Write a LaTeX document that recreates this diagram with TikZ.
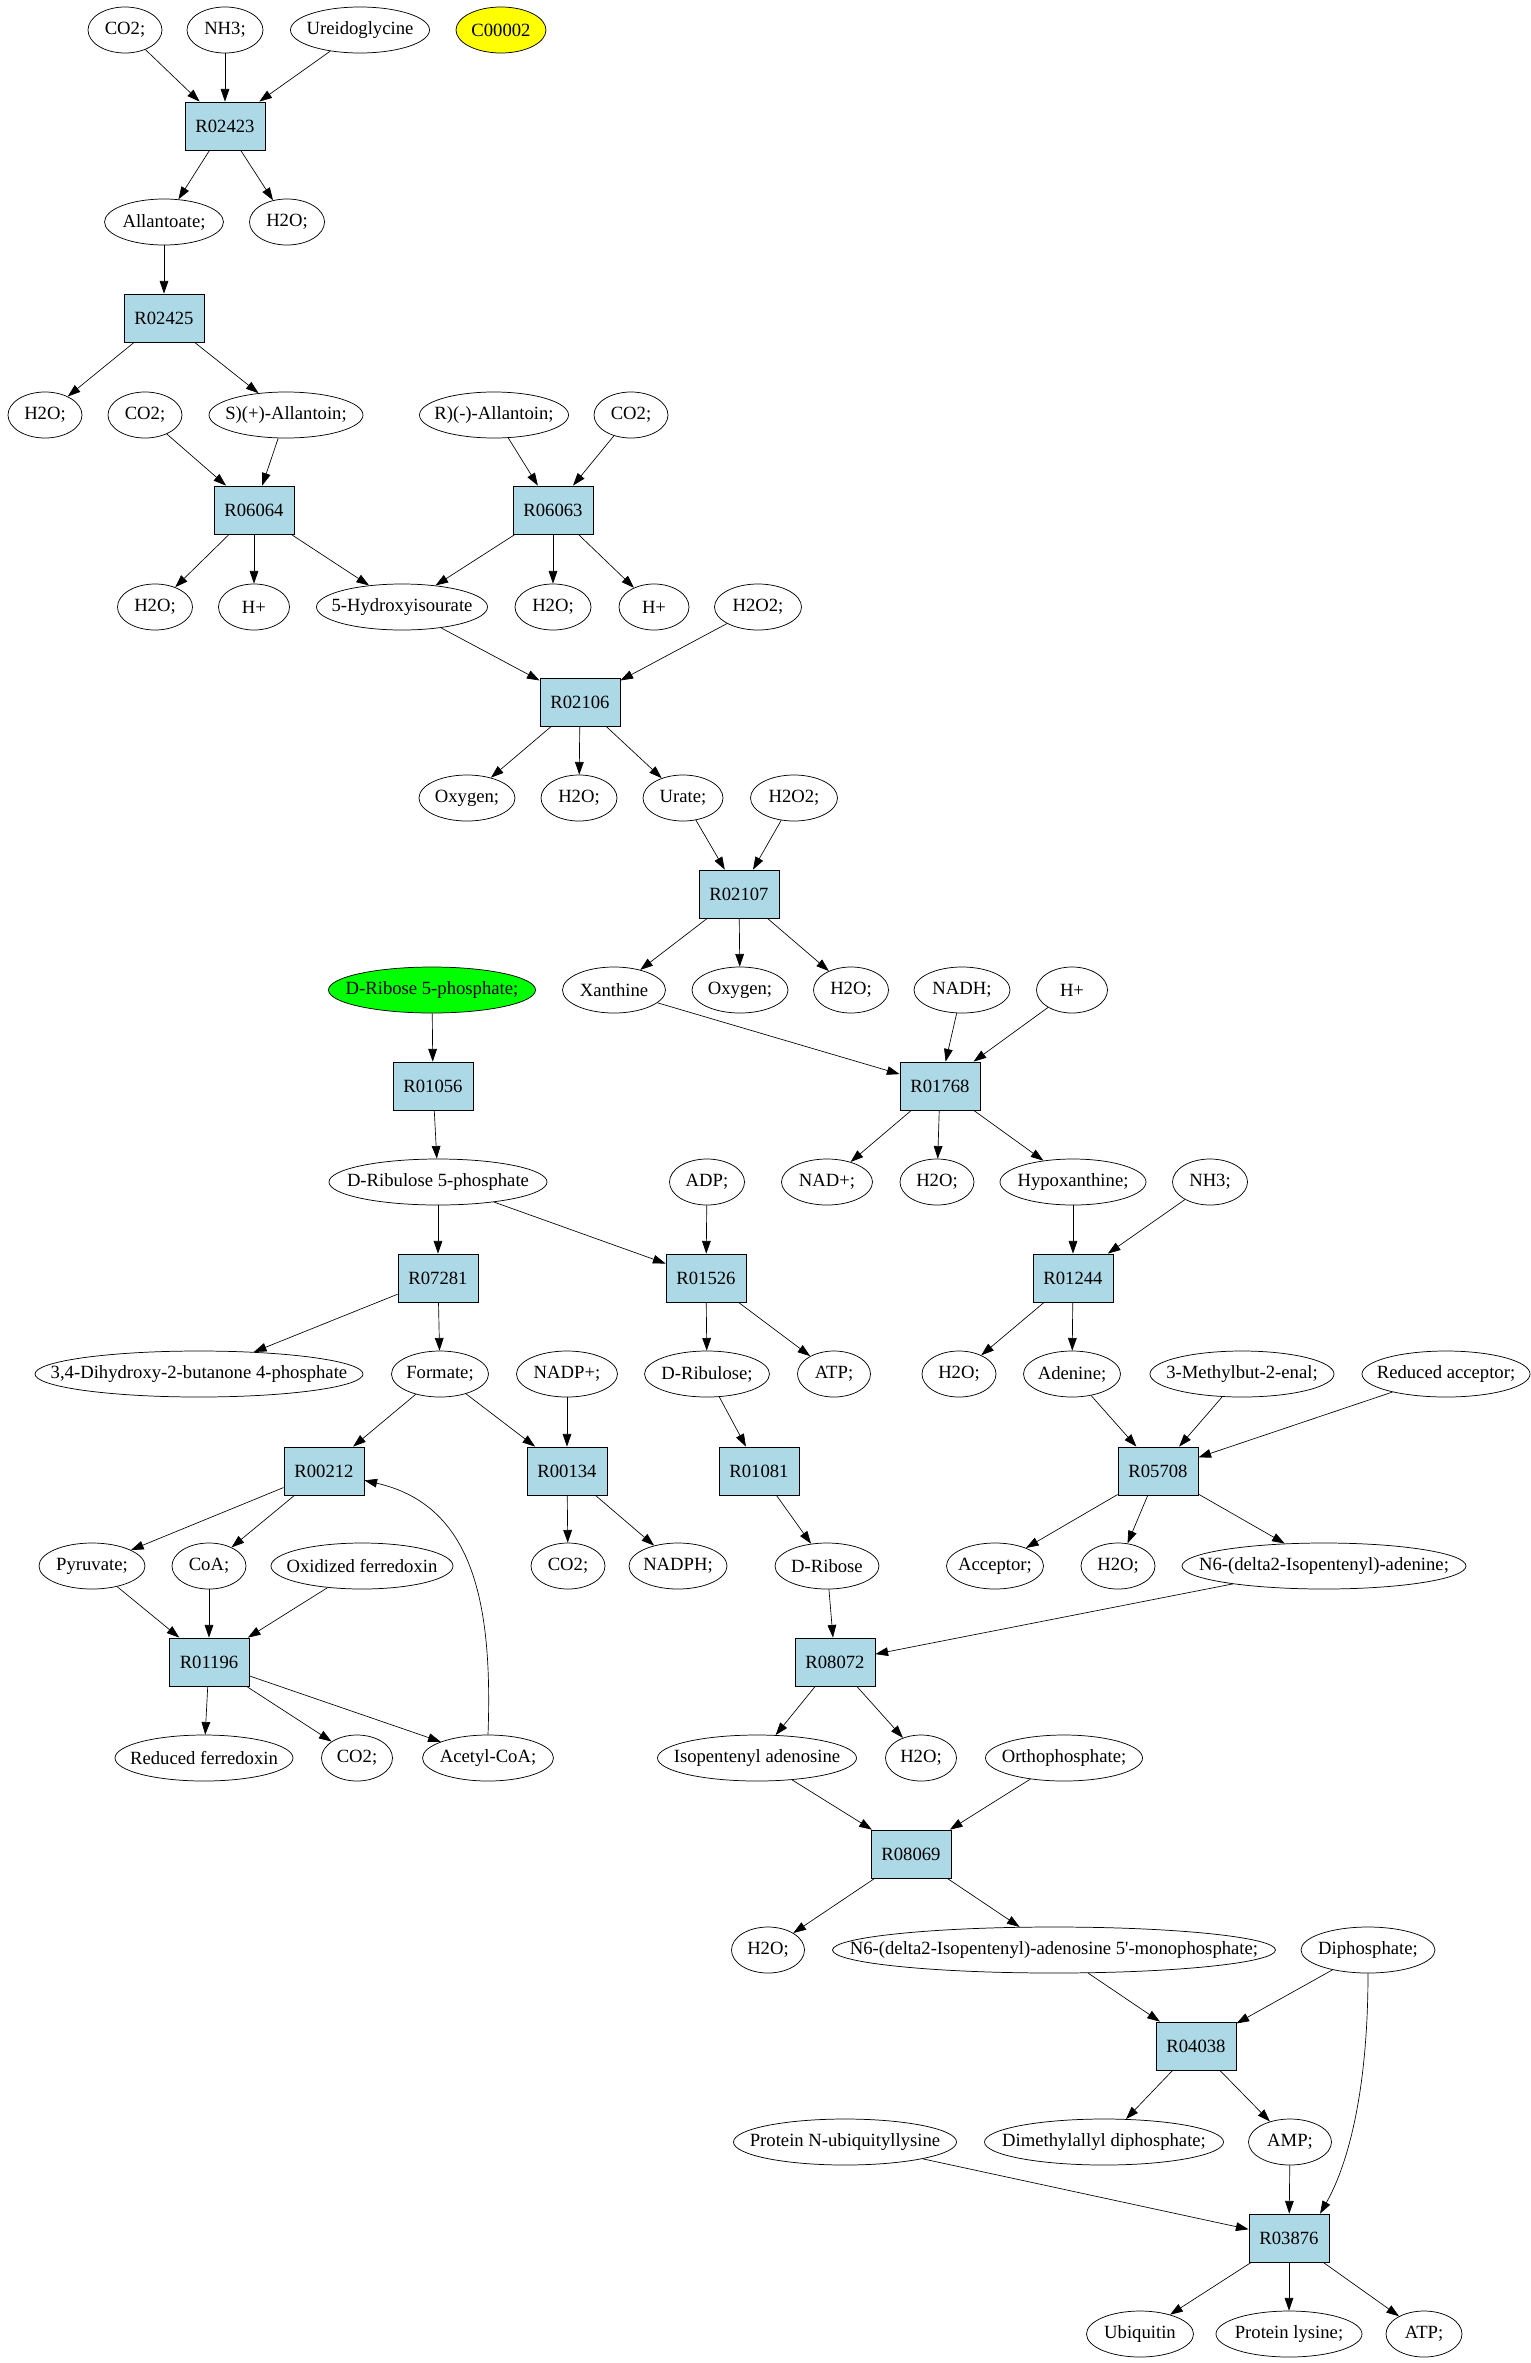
\documentclass[tikz,border=0pt]{standalone}
\usepackage{fontspec}
\setmainfont{Liberation Serif}
\usetikzlibrary{shapes.geometric,arrows.meta}
\definecolor{rxnblue}{HTML}{ADD8E6}
\definecolor{ribgreen}{HTML}{00FF00}
\definecolor{cyellow}{HTML}{FFFF00}
\newcommand\mtxt[1]{\makebox[0pt][c]{#1}}
\begin{document}
\begin{tikzpicture}[x=0.75pt,y=-0.75pt,
  met/.style={ellipse,draw,line width=0.55pt,minimum height=34.5pt,minimum width=#1*0.75pt,inner sep=0pt,font=\fontsize{14}{16}\selectfont},
  rxn/.style={rectangle,draw,fill=rxnblue,line width=0.6pt,minimum width=60pt,minimum height=36pt,inner sep=0pt,font=\fontsize{14}{16}\selectfont},
  arr/.style={-{Triangle[length=9.5pt,width=6.5pt]},line width=0.5pt}]
\useasboundingbox (0,0) rectangle (1531,2363);
% row 1
\node[met=74] (co2a) at (125,30) {\mtxt{CO2;}};
\node[met=76] (nh3a) at (225,30) {\mtxt{NH3;}};
\node[met=139] (ureido) at (360,30) {\mtxt{Ureidoglycine}};
\node[met=90,fill=cyellow] (c00002) at (501,30) {\mtxt{C00002}};
\node[rxn] (r02423) at (225,126) {R02423};
% row 2
\node[met=119] (allantoate) at (164,222) {\mtxt{Allantoate;}};
\node[met=75] (h2oa) at (287,222) {\mtxt{H2O;}};
\node[rxn] (r02425) at (164,318) {R02425};
% row 3
\node[met=74] (h2ob) at (45,415) {\mtxt{H2O;}};
\node[met=74] (co2b) at (145,415) {\mtxt{CO2;}};
\node[met=154] (sallan) at (286,415) {\mtxt{S)(+)-Allantoin;}};
\node[met=149] (rallan) at (494,415) {\mtxt{R)(-)-Allantoin;}};
\node[met=74] (co2c) at (631,415) {\mtxt{CO2;}};
\node[rxn] (r06064) at (254,510) {R06064};
\node[rxn] (r06063) at (553,510) {R06063};
% row 4
\node[met=75] (h2oc) at (155,607) {\mtxt{H2O;}};
\node[met=71] (hpa) at (254,607) {\mtxt{H+}};
\node[met=171] (hydroxy) at (402,607) {\mtxt{5-Hydroxyisourate}};
\node[met=76] (h2od) at (553,607) {\mtxt{H2O;}};
\node[met=70] (hpb) at (654,607) {\mtxt{H+}};
\node[met=87] (h2o2a) at (758,607) {\mtxt{H2O2;}};
\node[rxn] (r02106) at (580,702) {R02106};
% row 5
\node[met=96] (oxya) at (467,798) {\mtxt{Oxygen;}};
\node[met=76] (h2oe) at (579,798) {\mtxt{H2O;}};
\node[met=80] (urate) at (683,798) {\mtxt{Urate;}};
\node[met=87] (h2o2b) at (794,798) {\mtxt{H2O2;}};
\node[rxn] (r02107) at (739,894) {R02107};
% row 6
\node[met=207,fill=ribgreen] (rib5p) at (432,990) {\mtxt{D-Ribose 5-phosphate;}};
\node[met=103] (xanthine) at (614,990) {\mtxt{Xanthine}};
\node[met=96] (oxyb) at (740,990) {\mtxt{Oxygen;}};
\node[met=75] (h2of) at (851,990) {\mtxt{H2O;}};
\node[met=96] (nadh) at (962,990) {\mtxt{NADH;}};
\node[met=71] (hpc) at (1072,990) {\mtxt{H+}};
\node[rxn] (r01056) at (433,1086) {R01056};
\node[rxn] (r01768) at (940,1086) {R01768};
% row 7
\node[met=218] (ribu5p) at (438,1182) {\mtxt{D-Ribulose 5-phosphate}};
\node[met=75] (adp) at (707,1182) {\mtxt{ADP;}};
\node[met=91] (nadp) at (827,1182) {\mtxt{NAD+;}};
\node[met=74] (h2og) at (937,1182) {\mtxt{H2O;}};
\node[met=146] (hypox) at (1073,1182) {\mtxt{Hypoxanthine;}};
\node[met=75] (nh3b) at (1210,1182) {\mtxt{NH3;}};
\node[rxn] (r07281) at (438,1278) {R07281};
\node[rxn] (r01526) at (706,1278) {R01526};
\node[rxn] (r01244) at (1073,1278) {R01244};
% row 8
\node[met=328] (dihyd) at (199,1374) {\mtxt{3,4-Dihydroxy-2-butanone 4-phosphate}};
\node[met=97] (formate) at (440,1374) {\mtxt{Formate;}};
\node[met=101] (nadpp) at (567,1374) {\mtxt{NADP+;}};
\node[met=125] (dribulose) at (707,1374) {\mtxt{D-Ribulose;}};
\node[met=73] (atpa) at (834,1374) {\mtxt{ATP;}};
\node[met=74] (h2oh) at (959,1374) {\mtxt{H2O;}};
\node[met=97] (adenine) at (1072,1374) {\mtxt{Adenine;}};
\node[met=184] (methyl) at (1242,1374) {\mtxt{3-Methylbut-2-enal;}};
\node[met=168] (redacc) at (1446,1374) {\mtxt{Reduced acceptor;}};
\node[rxn] (r00212) at (324,1471) {R00212};
\node[rxn] (r00134) at (567,1471) {R00134};
\node[rxn] (r01081) at (759,1471) {R01081};
\node[rxn] (r05708) at (1158,1471) {R05708};
% row 9
\node[met=106] (pyruvate) at (92,1566) {\mtxt{Pyruvate;}};
\node[met=74] (coa) at (209,1566) {\mtxt{CoA;}};
\node[met=182] (oxferr) at (362,1566) {\mtxt{Oxidized ferredoxin}};
\node[met=74] (co2d) at (568,1566) {\mtxt{CO2;}};
\node[met=98] (nadph) at (678,1566) {\mtxt{NADPH;}};
\node[met=104] (dribose) at (827,1566) {\mtxt{D-Ribose}};
\node[met=97] (acceptor) at (995,1566) {\mtxt{Acceptor;}};
\node[met=74] (h2oi) at (1118,1566) {\mtxt{H2O;}};
\node[met=284] (n6aden) at (1324,1566) {\mtxt{N6-(delta2-Isopentenyl)-adenine;}};
\node[rxn] (r01196) at (209,1662) {R01196};
\node[rxn] (r08072) at (835,1662) {R08072};
% row 10
\node[met=178] (redferr) at (204,1758) {\mtxt{Reduced ferredoxin}};
\node[met=71] (co2e) at (357,1758) {\mtxt{CO2;}};
\node[met=131] (acetyl) at (488,1758) {\mtxt{Acetyl-CoA;}};
\node[met=199] (isopent) at (757,1758) {\mtxt{Isopentenyl adenosine}};
\node[met=71] (h2oj) at (921,1758) {\mtxt{H2O;}};
\node[met=157] (ortho) at (1064,1758) {\mtxt{Orthophosphate;}};
\node[rxn] (r08069) at (911,1854) {R08069};
% row 11
\node[met=73] (h2ok) at (768,1950) {\mtxt{H2O;}};
\node[met=443] (n6amp) at (1054,1950) {\mtxt{N6-(delta2-Isopentenyl)-adenosine 5\textquotesingle-monophosphate;}};
\node[met=134] (diphos) at (1368,1950) {\mtxt{Diphosphate;}};
\node[rxn] (r04038) at (1196,2046) {R04038};
% row 12
\node[met=223] (protub) at (845,2142) {\mtxt{Protein N-ubiquityllysine}};
\node[met=239] (dimeth) at (1104,2142) {\mtxt{Dimethylallyl diphosphate;}};
\node[met=83] (amp) at (1290,2142) {\mtxt{AMP;}};
\node[rxn] (r03876) at (1289,2238) {R03876};
% row 13
\node[met=107] (ubiq) at (1140,2334) {\mtxt{Ubiquitin}};
\node[met=146] (protlys) at (1289,2334) {\mtxt{Protein lysine;}};
\node[met=76] (atpb) at (1424,2334) {\mtxt{ATP;}};
% edges
\draw[arr] (co2a) -- (r02423);
\draw[arr] (nh3a) -- (r02423);
\draw[arr] (ureido) -- (r02423);
\draw[arr] (r02423) -- (allantoate);
\draw[arr] (r02423) -- (h2oa);
\draw[arr] (allantoate) -- (r02425);
\draw[arr] (r02425) -- (h2ob);
\draw[arr] (r02425) -- (sallan);
\draw[arr] (co2b) -- (r06064);
\draw[arr] (sallan) -- (r06064);
\draw[arr] (rallan) -- (r06063);
\draw[arr] (co2c) -- (r06063);
\draw[arr] (r06064) -- (h2oc);
\draw[arr] (r06064) -- (hpa);
\draw[arr] (r06064) -- (hydroxy);
\draw[arr] (r06063) -- (hydroxy);
\draw[arr] (r06063) -- (h2od);
\draw[arr] (r06063) -- (hpb);
\draw[arr] (hydroxy) -- (r02106);
\draw[arr] (h2o2a) -- (r02106);
\draw[arr] (r02106) -- (oxya);
\draw[arr] (r02106) -- (h2oe);
\draw[arr] (r02106) -- (urate);
\draw[arr] (urate) -- (r02107);
\draw[arr] (h2o2b) -- (r02107);
\draw[arr] (r02107) -- (xanthine);
\draw[arr] (r02107) -- (oxyb);
\draw[arr] (r02107) -- (h2of);
\draw[arr] (xanthine) -- (r01768);
\draw[arr] (nadh) -- (r01768);
\draw[arr] (hpc) -- (r01768);
\draw[arr] (rib5p) -- (r01056);
\draw[arr] (r01056) -- (ribu5p);
\draw[arr] (r01768) -- (nadp);
\draw[arr] (r01768) -- (h2og);
\draw[arr] (r01768) -- (hypox);
\draw[arr] (ribu5p) -- (r07281);
\draw[arr] (ribu5p) -- (r01526);
\draw[arr] (adp) -- (r01526);
\draw[arr] (hypox) -- (r01244);
\draw[arr] (nh3b) -- (r01244);
\draw[arr] (r07281) -- (dihyd);
\draw[arr] (r07281) -- (formate);
\draw[arr] (r01526) -- (dribulose);
\draw[arr] (r01526) -- (atpa);
\draw[arr] (r01244) -- (h2oh);
\draw[arr] (r01244) -- (adenine);
\draw[arr] (formate) -- (r00212);
\draw[arr] (formate) -- (r00134);
\draw[arr] (nadpp) -- (r00134);
\draw[arr] (dribulose) -- (r01081);
\draw[arr] (adenine) -- (r05708);
\draw[arr] (methyl) -- (r05708);
\draw[arr] (redacc) -- (r05708);
\draw[arr] (r00212) -- (pyruvate);
\draw[arr] (r00212) -- (coa);
\draw[arr] (r00134) -- (co2d);
\draw[arr] (r00134) -- (nadph);
\draw[arr] (r01081) -- (dribose);
\draw[arr] (r05708) -- (acceptor);
\draw[arr] (r05708) -- (h2oi);
\draw[arr] (r05708) -- (n6aden);
\draw[arr] (pyruvate) -- (r01196);
\draw[arr] (coa) -- (r01196);
\draw[arr] (oxferr) -- (r01196);
\draw[arr] (acetyl.north) .. controls (493,1600) and (472,1505) .. ([yshift=-7pt]r00212.east);
\draw[arr] (dribose) -- (r08072);
\draw[arr] (n6aden) -- (r08072);
\draw[arr] (r01196) -- (redferr);
\draw[arr] (r01196) -- (co2e);
\draw[arr] (r01196) -- (acetyl);
\draw[arr] (r08072) -- (isopent);
\draw[arr] (r08072) -- (h2oj);
\draw[arr] (isopent) -- (r08069);
\draw[arr] (ortho) -- (r08069);
\draw[arr] (r08069) -- (h2ok);
\draw[arr] (r08069) -- (n6amp);
\draw[arr] (n6amp) -- (r04038);
\draw[arr] (diphos) -- (r04038);
\draw[arr] (diphos.south) .. controls (1368,2100) and (1345,2170) .. ([xshift=-7pt]r03876.north east);
\draw[arr] (r04038) -- (dimeth);
\draw[arr] (r04038) -- (amp);
\draw[arr] (protub) -- (r03876);
\draw[arr] (amp) -- (r03876);
\draw[arr] (r03876) -- (ubiq);
\draw[arr] (r03876) -- (protlys);
\draw[arr] (r03876) -- (atpb);
\end{tikzpicture}
\end{document}
